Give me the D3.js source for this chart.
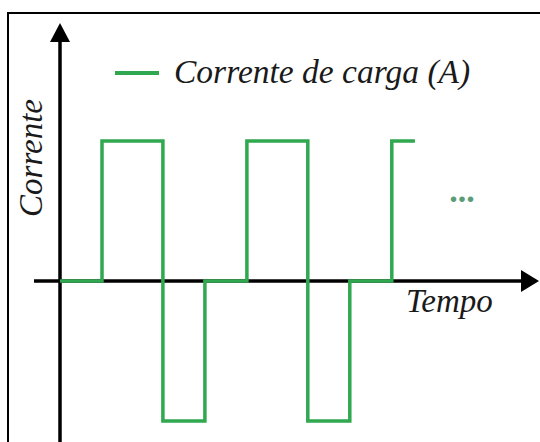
<!DOCTYPE html>
<html>
<head>
<meta charset="utf-8">
<script src="https://cdn.jsdelivr.net/npm/d3@7"></script>
<style>
  html, body { margin: 0; padding: 0; background: #fff; }
  svg { display: block; }
</style>
</head>
<body>
<svg id="chart" width="540" height="442"></svg>
<script>
// Data: switching instants (time units) and current level held after each instant
const stepTimes  = [0, 1, 2.45, 3.45, 4.45, 5.9, 6.9, 7.9, 8.45];
const stepLevels = [0, 1, -1, 0, 1, -1, 0, 1, 1];
const seriesName = "Corrente de carga (A)";
const xLabel = "Tempo";
const yLabel = "Corrente";

const svg = d3.select("#chart");
const green = "#2fa84f";
const FONT = "Liberation Serif";

const x = d3.scaleLinear().domain([0, 10]).range([60, 480]);
const y = d3.scaleLinear().domain([-1, 1]).range([421, 141]);

// frame
svg.append("rect").attr("x", 8).attr("y", 13).attr("width", 600).attr("height", 500)
  .attr("fill", "none").attr("stroke", "#000").attr("stroke-width", 2);

// axes
const x0 = x(0), y0 = y(0);
svg.append("line").attr("x1", 34).attr("x2", 522).attr("y1", y0).attr("y2", y0)
  .attr("stroke", "#000").attr("stroke-width", 3.5);
svg.append("path").attr("d", `M521,${y0-11} L539,${y0} L521,${y0+11} Z`).attr("fill", "#000");

svg.append("line").attr("x1", x0).attr("x2", x0).attr("y1", 450).attr("y2", 40)
  .attr("stroke", "#000").attr("stroke-width", 3.5);
svg.append("path").attr("d", `M${x0-10},42 L${x0},23 L${x0+10},42 Z`).attr("fill", "#000");

// series
const pts = stepTimes.map((t, i) => [t, stepLevels[i]]);
const line = d3.line().x(d => x(d[0])).y(d => y(d[1])).curve(d3.curveStepAfter);
svg.append("path").datum(pts).attr("d", line)
  .attr("fill", "none").attr("stroke", green).attr("stroke-width", 3.5)
  .attr("stroke-linejoin", "miter").attr("stroke-linecap", "butt");

// ellipsis
svg.append("text").attr("x", 462).attr("y", 202).attr("text-anchor", "middle")
  .attr("font-family", FONT).attr("font-size", 34).attr("font-weight", "bold")
  .attr("fill", "#5a9c78").text("...");

// legend
svg.append("line").attr("x1", 115).attr("x2", 159).attr("y1", 73).attr("y2", 73)
  .attr("stroke", green).attr("stroke-width", 4);
svg.append("text").attr("x", 174).attr("y", 83)
  .attr("font-family", FONT).attr("font-style", "italic").attr("font-size", 33.5)
  .attr("fill", "#1a1a1a").text(seriesName);

// axis labels
svg.append("text").attr("x", 406).attr("y", 312)
  .attr("font-family", FONT).attr("font-style", "italic").attr("font-size", 33)
  .attr("fill", "#1a1a1a").text(xLabel);
svg.append("text").attr("transform", "translate(42,158) rotate(-90)").attr("text-anchor", "middle")
  .attr("font-family", FONT).attr("font-style", "italic").attr("font-size", 33)
  .attr("fill", "#1a1a1a").text(yLabel);
</script>
</body>
</html>
